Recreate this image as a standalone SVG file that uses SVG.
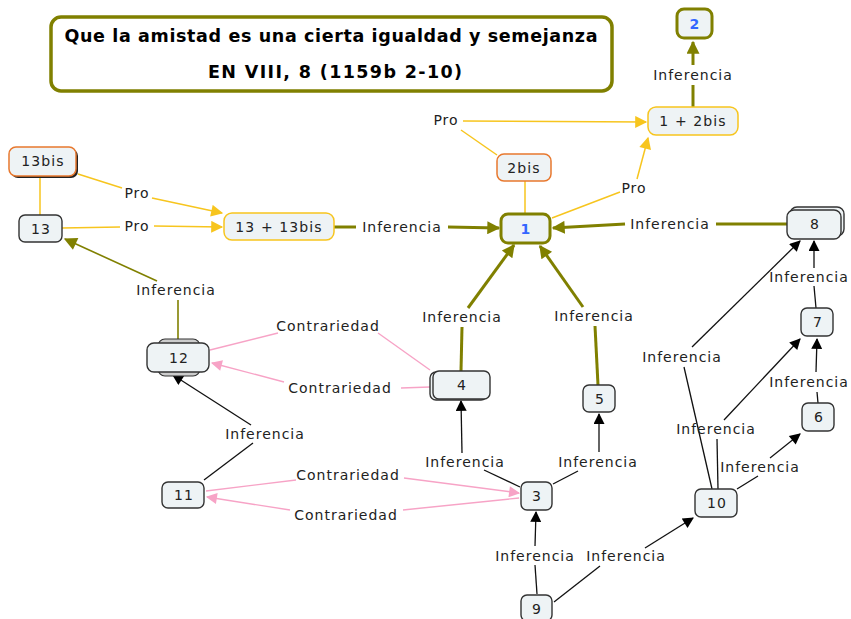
<svg xmlns="http://www.w3.org/2000/svg" width="851" height="619" viewBox="0 0 851 619">
<style>
.n{fill:#eef3f5;stroke:#333;stroke-width:1.4}
.ol{stroke:#808000;stroke-width:3}
.ye{stroke:#f7c51e;stroke-width:1.5}
.or{stroke:#e8782e;stroke-width:1.5}
.t{font-family:"DejaVu Sans",Verdana,sans-serif;font-size:14px;letter-spacing:1.1px;fill:#222;text-anchor:middle}
.b{font-weight:bold;fill:#3366ff}
.l{font-family:"DejaVu Sans",Verdana,sans-serif;font-size:14px;letter-spacing:1px;fill:#222;text-anchor:middle}
.c path{fill:none}
.cO{stroke:#808000;stroke-width:3}
.cO2{stroke:#808000;stroke-width:1.6}
.cY{stroke:#f7c51e;stroke-width:1.5}
.cP{stroke:#f7a3c6;stroke-width:1.4}
.cK{stroke:#111;stroke-width:1.3}
</style>
<defs>
<marker id="aO" viewBox="0 0 10 10" refX="9" refY="5" markerUnits="userSpaceOnUse" markerWidth="15" markerHeight="13" orient="auto"><path d="M0,0L10,5L0,10z" fill="#808000"/></marker>
<marker id="aY" viewBox="0 0 10 10" refX="9" refY="5" markerUnits="userSpaceOnUse" markerWidth="15" markerHeight="12" orient="auto"><path d="M0,0L10,5L0,10z" fill="#f7c51e"/></marker>
<marker id="aP" viewBox="0 0 10 10" refX="9" refY="5" markerUnits="userSpaceOnUse" markerWidth="15" markerHeight="11" orient="auto"><path d="M0,0L10,5L0,10z" fill="#f7a3c6"/></marker>
<marker id="aK" viewBox="0 0 10 10" refX="9" refY="5" markerUnits="userSpaceOnUse" markerWidth="13" markerHeight="11" orient="auto"><path d="M0,0L10,5L0,10z" fill="#000"/></marker>
</defs>
<rect width="851" height="619" fill="#fff"/>

<g id="title">
<rect x="51" y="17" width="561" height="74" rx="10" fill="#fff" stroke="#808000" stroke-width="3.5"/>
<text x="331" y="42" font-family="DejaVu Sans,Verdana,sans-serif" font-size="17.5" font-weight="bold" text-anchor="middle" textLength="533" lengthAdjust="spacing">Que la amistad es una cierta igualdad y semejanza</text>
<text x="335" y="78" font-family="DejaVu Sans,Verdana,sans-serif" font-size="17.5" font-weight="bold" text-anchor="middle" textLength="254" lengthAdjust="spacing">EN VIII, 8 (1159b 2-10)</text>
</g>

<g id="connectors" class="c">
<path class="cO" d="M693,107L693,85"/><path class="cO" d="M693,65L693,42" marker-end="url(#aO)"/>
<path class="cO" d="M334,227L356,227"/><path class="cO" d="M448,227L499,228" marker-end="url(#aO)"/>
<path class="cO" d="M787,224L716,224"/><path class="cO" d="M625,224L553,228" marker-end="url(#aO)"/>
<path class="cO" d="M461,371L462,327"/><path class="cO" d="M468,308L514,245" marker-end="url(#aO)"/>
<path class="cO" d="M598,385L595,326"/><path class="cO" d="M583,307L540,246" marker-end="url(#aO)"/>
<path class="cO2" d="M178,342L178,300"/><path class="cO2" d="M157,281L65,239" marker-end="url(#aO)"/>

<path class="cY" d="M78,174L122,188"/><path class="cY" d="M152,198L222,213" marker-end="url(#aY)"/>
<path class="cY" d="M62,228L120,227"/><path class="cY" d="M154,226L222,227" marker-end="url(#aY)"/>
<path class="cY" d="M40,176L40,215"/>
<path class="cY" d="M497,155L461,130"/><path class="cY" d="M463,121L646,122" marker-end="url(#aY)"/>
<path class="cY" d="M525,181L525,214"/>
<path class="cY" d="M552,218L620,192"/><path class="cY" d="M637,179L648,138" marker-end="url(#aY)"/>

<path class="cP" d="M210,350L278,333"/><path class="cP" d="M378,333L430,370"/>
<path class="cP" d="M430,387L401,388"/><path class="cP" d="M284,382L212,363" marker-end="url(#aP)"/>
<path class="cP" d="M206,491L296,480"/><path class="cP" d="M404,478L519,493" marker-end="url(#aP)"/>
<path class="cP" d="M519,498L403,510"/><path class="cP" d="M290,510L207,497" marker-end="url(#aP)"/>

<path class="cK" d="M204,480L253,443"/><path class="cK" d="M251,425L173,375" marker-end="url(#aK)"/>
<path class="cK" d="M520,487L484,470"/><path class="cK" d="M462,453L461,401" marker-end="url(#aK)"/>
<path class="cK" d="M553,484L578,471"/><path class="cK" d="M599,452L599,414" marker-end="url(#aK)"/>
<path class="cK" d="M537,594L535,565"/><path class="cK" d="M535,546L536,512" marker-end="url(#aK)"/>
<path class="cK" d="M554,602L600,566"/><path class="cK" d="M645,548L693,518" marker-end="url(#aK)"/>
<path class="cK" d="M737,489L758,476"/><path class="cK" d="M770,458L800,434" marker-end="url(#aK)"/>
<path class="cK" d="M718,489L717,439"/><path class="cK" d="M724,420L800,339" marker-end="url(#aK)"/>
<path class="cK" d="M712,489L684,367"/><path class="cK" d="M692,347L800,241" marker-end="url(#aK)"/>
<path class="cK" d="M818,403L817,392"/><path class="cK" d="M816,372L817,339" marker-end="url(#aK)"/>
<path class="cK" d="M816,308L814,286"/><path class="cK" d="M814,268L814,241" marker-end="url(#aK)"/>
</g>

<g id="labels">
<text class="l" x="693" y="80">Inferencia</text>
<text class="l" x="446" y="125">Pro</text>
<text class="l" x="634" y="193">Pro</text>
<text class="l" x="137" y="198">Pro</text>
<text class="l" x="137" y="231">Pro</text>
<text class="l" x="402" y="232">Inferencia</text>
<text class="l" x="670" y="229">Inferencia</text>
<text class="l" x="176" y="295">Inferencia</text>
<text class="l" x="462" y="322">Inferencia</text>
<text class="l" x="594" y="321">Inferencia</text>
<text class="l" x="328" y="331">Contrariedad</text>
<text class="l" x="340" y="393">Contrariedad</text>
<text class="l" x="682" y="362">Inferencia</text>
<text class="l" x="809" y="282">Inferencia</text>
<text class="l" x="809" y="387">Inferencia</text>
<text class="l" x="265" y="439">Inferencia</text>
<text class="l" x="716" y="434">Inferencia</text>
<text class="l" x="465" y="467">Inferencia</text>
<text class="l" x="598" y="467">Inferencia</text>
<text class="l" x="760" y="472">Inferencia</text>
<text class="l" x="348" y="480">Contrariedad</text>
<text class="l" x="346" y="520">Contrariedad</text>
<text class="l" x="535" y="561">Inferencia</text>
<text class="l" x="626" y="561">Inferencia</text>
</g>

<g id="n2"><rect class="n ol" x="677" y="9" width="35" height="29" rx="7"/><text class="t b" x="695" y="29">2</text></g>
<g id="n1p2bis"><rect class="n ye" x="648" y="107" width="90" height="28" rx="8"/><text class="t" x="693" y="126">1 + 2bis</text></g>
<g id="n2bis"><rect class="n or" x="497" y="154" width="54" height="27" rx="7"/><text class="t" x="524" y="173">2bis</text></g>
<g id="n1"><rect class="n ol" x="501" y="214" width="49" height="29" rx="7"/><text class="t b" x="526" y="234">1</text></g>
<g id="n13bis"><rect x="11" y="149" width="67" height="29" rx="7" fill="#222"/><rect class="n or" x="9" y="147" width="67" height="29" rx="7"/><text class="t" x="43" y="166">13bis</text></g>
<g id="n13"><rect class="n" x="19" y="215" width="43" height="27" rx="6"/><text class="t" x="41" y="234">13</text></g>
<g id="n13p13bis"><rect class="n ye" x="224" y="213" width="110" height="27" rx="8"/><text class="t" x="279" y="232">13 + 13bis</text></g>
<g id="n8"><rect class="n" x="790" y="207" width="54" height="29" rx="7"/><rect class="n" x="787" y="210" width="54" height="29" rx="7"/><text class="t" x="815" y="229">8</text></g>
<g id="n7"><rect class="n" x="801" y="308" width="32" height="28" rx="6"/><text class="t" x="818" y="327">7</text></g>
<g id="n6"><rect class="n" x="802" y="403" width="32" height="28" rx="6"/><text class="t" x="819" y="422">6</text></g>
<g id="n10"><rect class="n" x="695" y="489" width="42" height="28" rx="6"/><text class="t" x="717" y="508">10</text></g>
<g id="n12"><rect x="158" y="339" width="42" height="37" rx="7" fill="#ccc" stroke="#333" stroke-width="1.2"/><rect class="n" x="147" y="343" width="62" height="29" rx="7"/><text class="t" x="179" y="363">12</text></g>
<g id="n4"><rect class="n" x="430" y="372" width="57" height="28" rx="6"/><rect class="n" x="433" y="371" width="57" height="28" rx="6"/><text class="t" x="462" y="390">4</text></g>
<g id="n5"><rect class="n" x="583" y="385" width="32" height="27" rx="6"/><text class="t" x="600" y="404">5</text></g>
<g id="n3"><rect class="n" x="521" y="482" width="31" height="28" rx="6"/><text class="t" x="537" y="501">3</text></g>
<g id="n11"><rect class="n" x="162" y="482" width="42" height="26" rx="6"/><text class="t" x="184" y="500">11</text></g>
<g id="n9"><rect class="n" x="521" y="595" width="31" height="26" rx="6"/><text class="t" x="537" y="614">9</text></g>
</svg>
